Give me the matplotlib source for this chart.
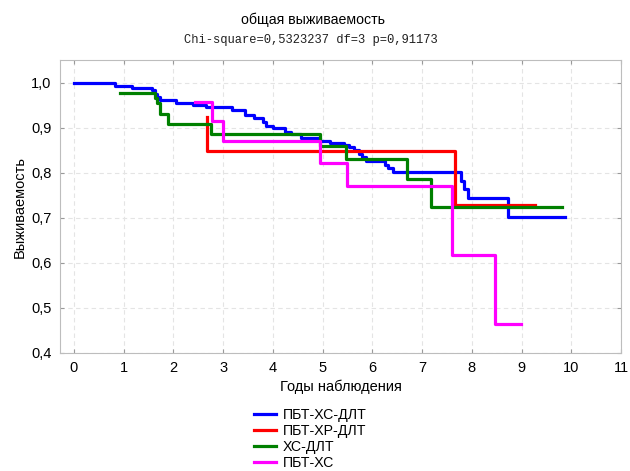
import matplotlib
matplotlib.use('Agg')
import matplotlib.pyplot as plt
from matplotlib.ticker import FuncFormatter

plt.rcParams['font.family'] = ['Liberation Sans', 'DejaVu Sans']

#----- Data -----#

group_names	= ['ПБТ-ХС-ДЛТ', 'ПБТ-ХР-ДЛТ', 'ХС-ДЛТ', 'ПБТ-ХС']
group_colors	= ['#0000ff', '#ff0000', '#008000', '#ff00ff']

blue_t		= [0, 0.82, 1.16, 1.56, 1.64, 1.68, 1.73, 2.06, 2.40, 2.66, 3.17, 3.43, 3.63, 3.80,
		   3.87, 4.00, 4.24, 4.37, 4.57, 4.94, 5.14, 5.44, 5.54, 5.64, 5.74, 5.80, 5.88,
		   6.25, 6.31, 6.41, 7.78, 7.85, 7.92, 8.72, 9.87]
blue_s		= [1.000, 0.993, 0.988, 0.984, 0.976, 0.968, 0.962, 0.956, 0.951, 0.947, 0.941,
		   0.929, 0.922, 0.914, 0.904, 0.900, 0.890, 0.886, 0.877, 0.871, 0.867, 0.862,
		   0.857, 0.850, 0.842, 0.835, 0.826, 0.818, 0.811, 0.802, 0.783, 0.765, 0.745,
		   0.703, 0.703]

red_t		= [2.68, 2.68, 7.66, 9.28]
red_s		= [0.925, 0.848, 0.728, 0.728]

green_t		= [0.92, 1.64, 1.68, 1.73, 1.89, 2.76, 4.94, 5.48, 6.70, 7.17, 9.82]
green_s		= [0.978, 0.967, 0.955, 0.932, 0.908, 0.886, 0.859, 0.832, 0.786, 0.725, 0.725]

magenta_t	= [2.43, 2.78, 3.00, 4.95, 5.50, 7.60, 8.47, 8.98]
magenta_s	= [0.958, 0.915, 0.871, 0.823, 0.771, 0.618, 0.465, 0.465]

x_ticks		= list(range(0, 12))
y_ticks		= [0.4, 0.5, 0.6, 0.7, 0.8, 0.9, 1.0]

title_text	= 'общая выживаемость'
stats_text	= 'Chi-square=0,5323237 df=3 p=0,91173'
x_label		= 'Годы наблюдения'
y_label		= 'Выживаемость'

#----- Plot -----#

fig = plt.figure(figsize=(6.3, 4.71), dpi=100)
ax = fig.add_axes([60/630, 1-353/471, 561/630, 293/471])

curves = [(blue_t, blue_s), (red_t, red_s), (green_t, green_s), (magenta_t, magenta_s)]
for (t, s), name, col in zip(curves, group_names, group_colors):
	ax.step(t, s, where='post', color=col, lw=2.3, label=name)

ax.set_xlim(-0.28, 11.0)
ax.set_ylim(0.4, 1.051)
ax.set_xticks(x_ticks)
ax.set_yticks(y_ticks)
ax.yaxis.set_major_formatter(FuncFormatter(lambda v, p: ('%.1f' % v).replace('.', ',')))

ax.grid(True, ls=(0, (4, 3)), color='#e4e4e4', lw=0.8)
ax.set_axisbelow(True)
for sp in ax.spines.values():
	sp.set_color('#bdbdbd')
ax.tick_params(axis='both', which='major', labelsize=10.5, direction='in',
		length=3, color='#9a9a9a', top=True, right=True, pad=6)

ax.set_xlabel(x_label, fontsize=10.5, labelpad=3)
ax.set_ylabel(y_label, fontsize=10.5, labelpad=3)

fig.text(0.497, 0.957, title_text, ha='center', va='center', fontsize=10.2)
fig.text(0.493, 0.915, stats_text, ha='center', va='center', fontsize=8.7,
		family='Liberation Mono', color='#202020')

ax.legend(loc='upper left', bbox_to_anchor=(0.335, -0.167), frameon=False, fontsize=10.2,
		handlelength=1.6, handletextpad=0.45, labelspacing=0.14, borderaxespad=0)

fig.savefig('out.png', dpi=100)
